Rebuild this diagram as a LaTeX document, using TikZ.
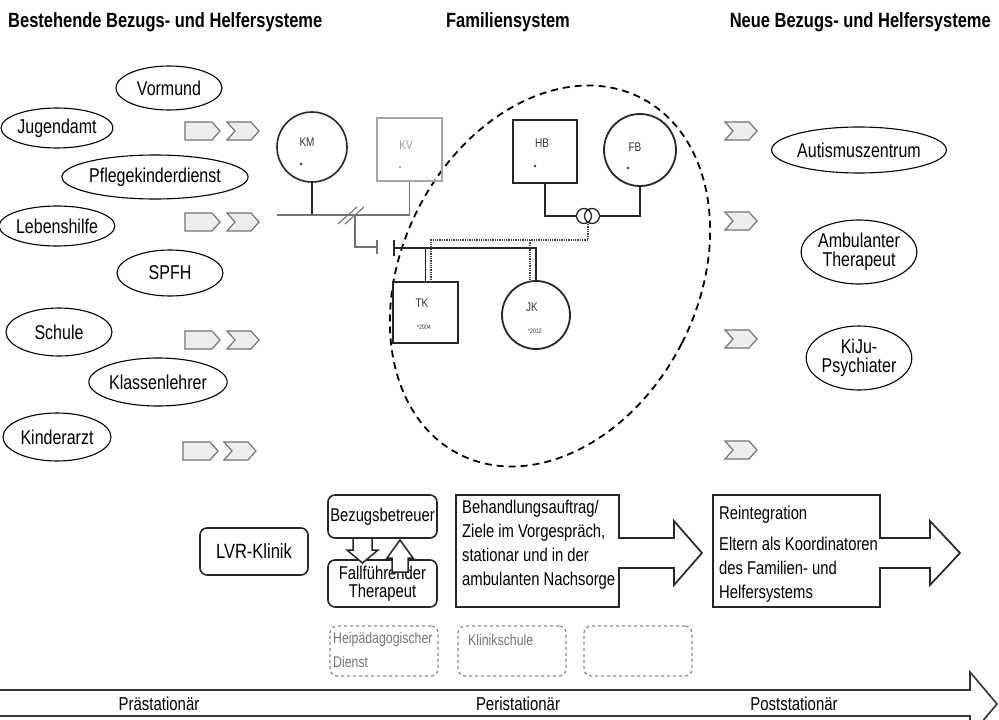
\documentclass[tikz,border=0pt]{standalone}
\usepackage{fontspec}
\setmainfont{Liberation Sans}[FakeStretch=0.8]
\definecolor{chevfill}{gray}{0.93}
\definecolor{chevline}{gray}{0.45}
\definecolor{dgray}{gray}{0.2}
\usetikzlibrary{shapes.geometric}
\newcommand\pentachev[2]{\draw[chev] (#1,#2-9) -- (#1+27,#2-9) -- (#1+35,#2) -- (#1+27,#2+9) -- (#1,#2+9) -- cycle;}
\newcommand\chevshape[2]{\draw[chev] (#1,#2-9) -- (#1+24,#2-9) -- (#1+32,#2) -- (#1+24,#2+9) -- (#1,#2+9) -- (#1+8,#2) -- cycle;}
\begin{document}
\begin{tikzpicture}[x=1pt,y=-1pt,
  oval/.style={ellipse, draw=black, line width=1.1pt, inner sep=0pt, align=center, font=\fontsize{20}{19}\selectfont},
  head/.style={font=\bfseries\fontsize{20.6}{22}\selectfont, inner sep=0pt},
  chev/.style={draw=chevline, fill=chevfill, line width=1.2pt, line join=miter},
  fam/.style={font=\fontsize{12.5}{13}\selectfont, text=dgray, inner sep=0pt},
  tiny/.style={font=\fontsize{6.5}{7}\selectfont, text=dgray, inner sep=0pt},
  fline/.style={line width=1.8pt, draw=black!85},
  gline/.style={line width=1.4pt, draw=black!55},
  dotl/.style={line width=1.3pt, densely dotted, draw=black!75},
  rbox/.style={draw=black!85, line width=1.6pt, rounded corners=7pt, inner sep=0pt, font=\fontsize{18.5}{18}\selectfont, align=center},
  btxt/.style={font=\fontsize{18.5}{20}\selectfont, inner sep=0pt, anchor=base west},
  gbox/.style={draw=black!45, dashed, line width=1.3pt, rounded corners=7pt, inner sep=0pt, minimum width=108pt, minimum height=50pt},
  gtxt/.style={font=\fontsize{15.4}{16}\selectfont, text=black!55, inner sep=0pt, anchor=west},
  blk/.style={draw=black!85, fill=white, line width=1.5pt, line join=miter},
  tl/.style={font=\fontsize{18.7}{19}\selectfont, inner sep=0pt},
]
\useasboundingbox (0,0) rectangle (999,720);

% headers
\node[head, anchor=west] (h1) at (8,22) {Bestehende Bezugs- und Helfersysteme};
\node[head] (h2) at (508,22) {Familiensystem};
\node[head, anchor=east] (h3) at (991,22) {Neue Bezugs- und Helfersysteme};

% left ellipses
\node[oval, minimum width=106pt, minimum height=44pt] (vormund) at (169,88) {Vormund};
\node[oval, minimum width=110pt, minimum height=40pt] (jugend) at (57,128) {Jugendamt};
\node[oval, minimum width=150pt, minimum height=44pt] (pflege) at (155,177) {Pflegekinderdienst};
\node[oval, minimum width=110pt, minimum height=40pt] (lebens) at (57,226) {Lebenshilfe};
\node[oval, minimum width=106pt, minimum height=46pt] (spfh) at (170,273) {SPFH};
\node[oval, minimum width=106pt, minimum height=48pt] (schule) at (59,332) {Schule};
\node[oval, minimum width=114pt, minimum height=48pt] (klasse) at (158,382) {Klassenlehrer};
\node[oval, minimum width=108pt, minimum height=48pt] (kinder) at (57,437) {Kinderarzt};

% right ellipses
\node[oval, minimum width=148pt, minimum height=46pt] (autis) at (859,150) {Autismuszentrum};
\node[oval, minimum width=104pt, minimum height=64pt] (ambu) at (859,252) {Ambulanter\\Therapeut};
\node[oval, minimum width=104pt, minimum height=64pt] (kiju) at (859,358) {KiJu-\\Psychiater};

% chevrons
\pentachev{185}{131} \chevshape{227}{131}
\pentachev{185}{222} \chevshape{227}{222}
\pentachev{185}{340} \chevshape{227}{340}
\pentachev{183}{451} \chevshape{224}{451}
\chevshape{725}{131}
\chevshape{725}{221}
\chevshape{725}{339}
\chevshape{725}{450}

% family system
\draw[dashed, line width=1.8pt, dash pattern=on 7pt off 5pt, rotate around={-27:(550,276)}] (550,276) ellipse [x radius=148pt, y radius=200pt];

\node[circle, draw=black!85, line width=1.6pt, minimum size=70pt, inner sep=0pt] (km) at (312,147) {};
\node[rectangle, draw=black!35, line width=1.3pt, minimum width=65pt, minimum height=63pt, inner sep=0pt] (kv) at (409.5,149.5) {};
\node[rectangle, draw=black!85, line width=1.8pt, minimum width=64pt, minimum height=63pt, inner sep=0pt] (hb) at (545,151.5) {};
\node[circle, draw=black!85, line width=1.8pt, minimum size=72pt, inner sep=0pt] (fb) at (640,150) {};
\node[rectangle, draw=black!85, line width=1.8pt, minimum width=65pt, minimum height=61pt, inner sep=0pt] (tk) at (425.5,312.5) {};
\node[circle, draw=black!85, line width=1.8pt, minimum size=68pt, inner sep=0pt] (jk) at (536,315) {};

\node[fam] (kml) at (307,142) {KM}; \fill[dgray] (301,164) circle (1.3pt);
\node[fam, text=black!40] (kvl) at (406,145) {KV}; \fill[black!40] (400,167) circle (1.1pt);
\node[fam] (hbl) at (542,143) {HB}; \fill[dgray] (535,166) circle (1.3pt);
\node[fam] (fbl) at (635,147) {FB}; \fill[dgray] (628,168) circle (1.3pt);
\node[fam] (tkl) at (422,303) {TK}; \node[tiny] (tkd) at (424,327) {*2004};
\node[fam] (jkl) at (532,307) {JK}; \node[tiny] (jkd) at (535,331) {*2012};

\coordinate (mL) at (277,215);
\coordinate (mR) at (409.5,215);
\draw[fline] (km.south) -- (km.south |- mL);
\draw[gline] (mL) -- (mR) -- (kv.south);
\coordinate (dv) at (355,215);
\coordinate (dvE) at (377,247);
\draw[gline] (dv) |- (dvE);
\draw[gline] (377,240) -- (377,254);
\draw[gline, line width=1.1pt] (338,224) -- (357,207);
\draw[gline, line width=1.1pt] (345,224) -- (364,207);

\coordinate (cL) at (394,248);
\coordinate (cR) at (536,248);
\draw[fline] (cL) -- (cR) -- (jk.north);
\draw[fline] (394,240) -- (394,256);
\draw[fline] (tk.north |- cL) -- (tk.north);

\node[circle, draw=black!85, line width=1.3pt, minimum size=15pt, inner sep=0pt] (r1) at (584,216) {};
\node[circle, draw=black!85, line width=1.3pt, minimum size=15pt, inner sep=0pt] (r2) at (592,216) {};
\draw[fline] (hb.south) |- (r1.west);
\draw[fline] (r2.east) -| (fb.south);
\coordinate (dA) at (588,240);
\draw[dotl] (588,224) -- (dA) -- (431,240) -- (431,282);
\draw[dotl] (530,240) -- (530,282);

% bottom section
\node[rbox, minimum width=108pt, minimum height=47pt, font=\fontsize{20.6}{20}\selectfont] (lvr) at (254,551.5) {LVR-Klinik};
\node[rbox, minimum width=109pt, minimum height=43pt] (bez) at (382.5,516.5) {\raisebox{3pt}{Bezugsbetreuer}};
\node[rbox, minimum width=109pt, minimum height=47pt] (fall) at (382.5,583.5) {Fallführender\\Therapeut};
\draw[blk] (353,538) -- (353,550) -- (347,550) -- (362.5,563) -- (378,550) -- (372,550) -- (372,538) -- cycle;
\draw[blk] (392,572) -- (392,558) -- (387,558) -- (400,540) -- (413,558) -- (408,558) -- (408,572) -- cycle;

\draw[line width=1.7pt, draw=black!85, line join=miter] (456,495) -- (619,495) -- (619,538) -- (674,538) -- (674,521) -- (702,553) -- (674,585) -- (674,568) -- (619,568) -- (619,607) -- (456,607) -- cycle;
\node[btxt] (b1) at (462,513) {Behandlungsauftrag/};
\node[btxt] (b2) at (462,537) {Ziele im Vorgespräch,};
\node[btxt] (b3) at (462,561) {stationar und in der};
\node[btxt] (b4) at (462,585) {ambulanten Nachsorge};

\draw[line width=1.7pt, draw=black!85, line join=miter] (713,495) -- (880,495) -- (880,538) -- (930,538) -- (930,521) -- (960,553) -- (930,585) -- (930,568) -- (880,568) -- (880,607) -- (713,607) -- cycle;
\node[btxt] (r1t) at (719,519) {Reintegration};
\node[btxt] (r2t) at (719,550) {Eltern als Koordinatoren};
\node[btxt] (r3t) at (719,574) {des Familien- und};
\node[btxt] (r4t) at (719,598) {Helfersystems};

% dashed grey boxes
\node[gbox] (hpd) at (384,651) {};
\node[gtxt] (hpd1) at (333,640) {Heipädagogischer};
\node[gtxt] (hpd2) at (333,662) {Dienst};
\node[gbox] (ks) at (512,651) {};
\node[gtxt] (ks1) at (468,640) {Klinikschule};
\node[gbox] (leer) at (638,651) {};

% timeline
\draw[line width=1.6pt, draw=black!80, line join=miter] (0,690) -- (970,690) -- (970,672) -- (997,704) -- (983.5,720);
\draw[line width=1.6pt, draw=black!80] (0,716) -- (970,716) -- (970,720);
\node[tl] (t1) at (159,704) {Prästationär};
\node[tl] (t2) at (518,704) {Peristationär};
\node[tl] (t3) at (794,704) {Poststationär};
\end{tikzpicture}
\end{document}
